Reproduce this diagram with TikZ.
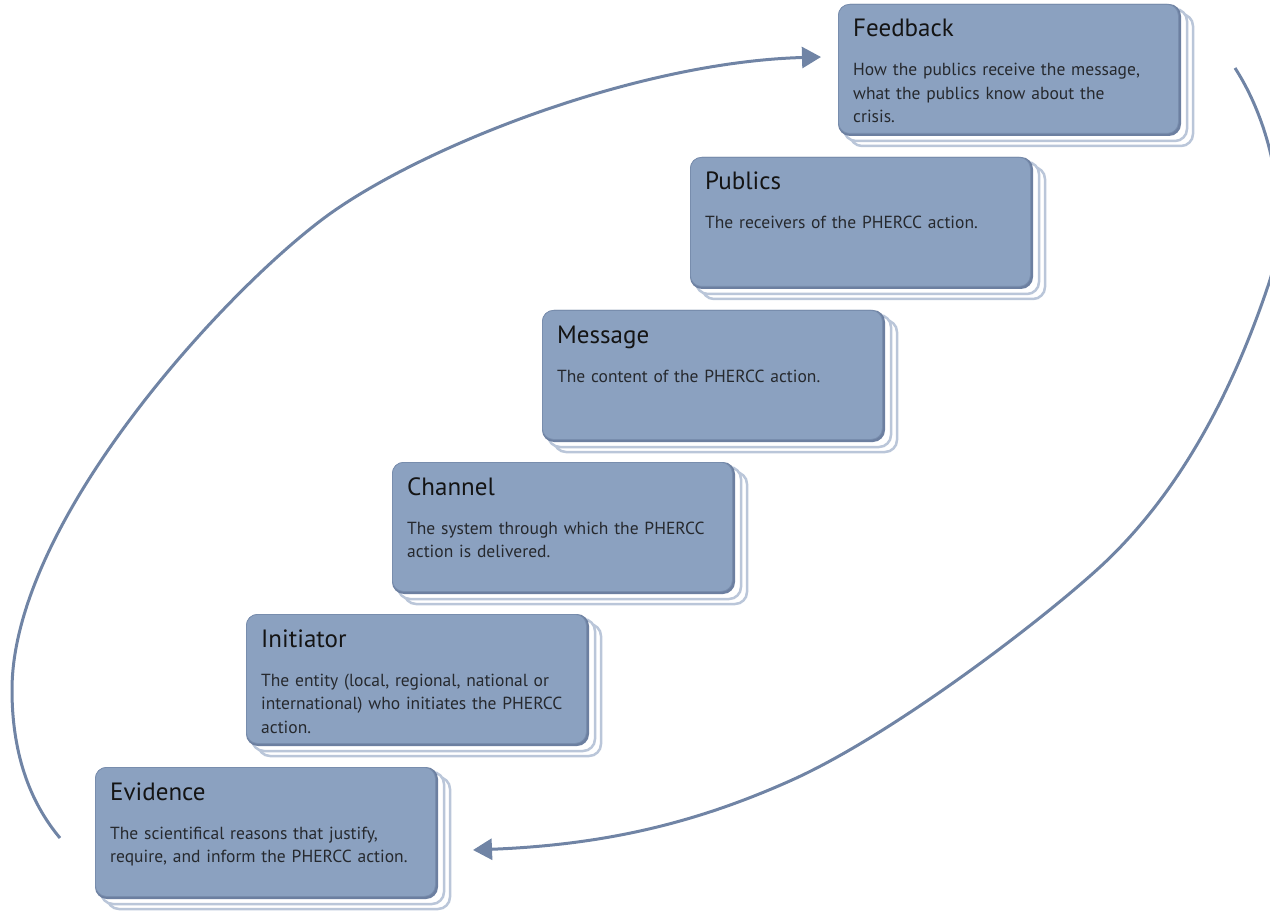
\documentclass[tikz,border=0pt]{standalone}
\usepackage{fontspec}
\setmainfont{PT Sans}
\usetikzlibrary{arrows.meta}
\definecolor{boxfill}{RGB}{139,161,192}
\definecolor{boxdark}{RGB}{108,127,160}
\definecolor{stackc}{RGB}{186,198,217}
\definecolor{arccol}{RGB}{112,132,165}
\definecolor{txt}{RGB}{20,20,20}
\newcommand\drawstep[5]{%
  \draw[stackbox] (#2+12,#3+10) rectangle ++(343,132);
  \draw[stackbox] (#2+6,#3+5) rectangle ++(343,132);
  \fill[darkbox] (#2,#3) rectangle ++(343,132);
  \node[mainbox] (#1) at (#2,#3) {};
  \node[titletext] (#1-title) at ([shift={(15,33)}]#1.north west) {#4};
  \node[bodytext] (#1-body) at ([shift={(15,72)}]#1.north west) {#5};
}
\begin{document}
\begin{tikzpicture}[x=1pt,y=-1pt,
  stackbox/.style={draw=stackc, fill=white, line width=2.5pt, rounded corners=12pt},
  darkbox/.style={fill=boxdark, rounded corners=12pt},
  mainbox/.style={fill=boxfill, draw=boxdark!60!boxfill, line width=0.8pt, rounded corners=11pt, minimum width=340pt, minimum height=129pt, inner sep=0pt, anchor=north west},
  titletext/.style={font=\fontsize{25}{29}\selectfont, text=txt, inner sep=0pt, anchor=base west},
  bodytext/.style={font=\fontsize{17.5}{23.5}\selectfont, text=txt!85!boxfill, inner sep=0pt, anchor=base west, text width=330pt, align=left},
  cyclearrow/.style={draw=arccol, line width=3pt, -{Triangle[length=19pt,width=21pt]}}
]
\path[use as bounding box] (0,0) rectangle (1270,912);

\drawstep{fb}{838}{4}{Feedback}{How the publics receive the message,\\what the publics know about the\\crisis.}
\drawstep{pub}{690}{157}{Publics}{The receivers of the PHERCC action.}
\drawstep{msg}{542}{310}{Message}{The content of the PHERCC action.}
\drawstep{chan}{392}{462}{Channel}{The system through which the PHERCC\\action is delivered.}
\drawstep{init}{246}{614}{Initiator}{The entity (local, regional, national or\\international) who initiates the PHERCC\\action.}
\drawstep{evid}{95}{767}{Evidence}{The scientifical reasons that justify,\\require, and inform the PHERCC action.}

\coordinate (ls) at (60,838);
\coordinate (le) at (821,57);
\coordinate (rs) at (1235,68);
\coordinate (re) at (473,850);

\draw[cyclearrow] (ls) .. controls (28,800) and (12,750) .. (12,690)
  .. controls (12,520) and (230,285) .. (331,213)
  .. controls (430,143) and (640,62) .. (le);

\begin{scope}
\clip (0,0) rectangle (1270,912);
\draw[cyclearrow] (rs) .. controls (1275,130) and (1290,220) .. (1269,283)
  .. controls (1230,400) and (1175,498) .. (1100,567)
  .. controls (1040,622) and (892,735) .. (792,780)
  .. controls (692,825) and (600,845) .. (re);
\end{scope}
\end{tikzpicture}
\end{document}
